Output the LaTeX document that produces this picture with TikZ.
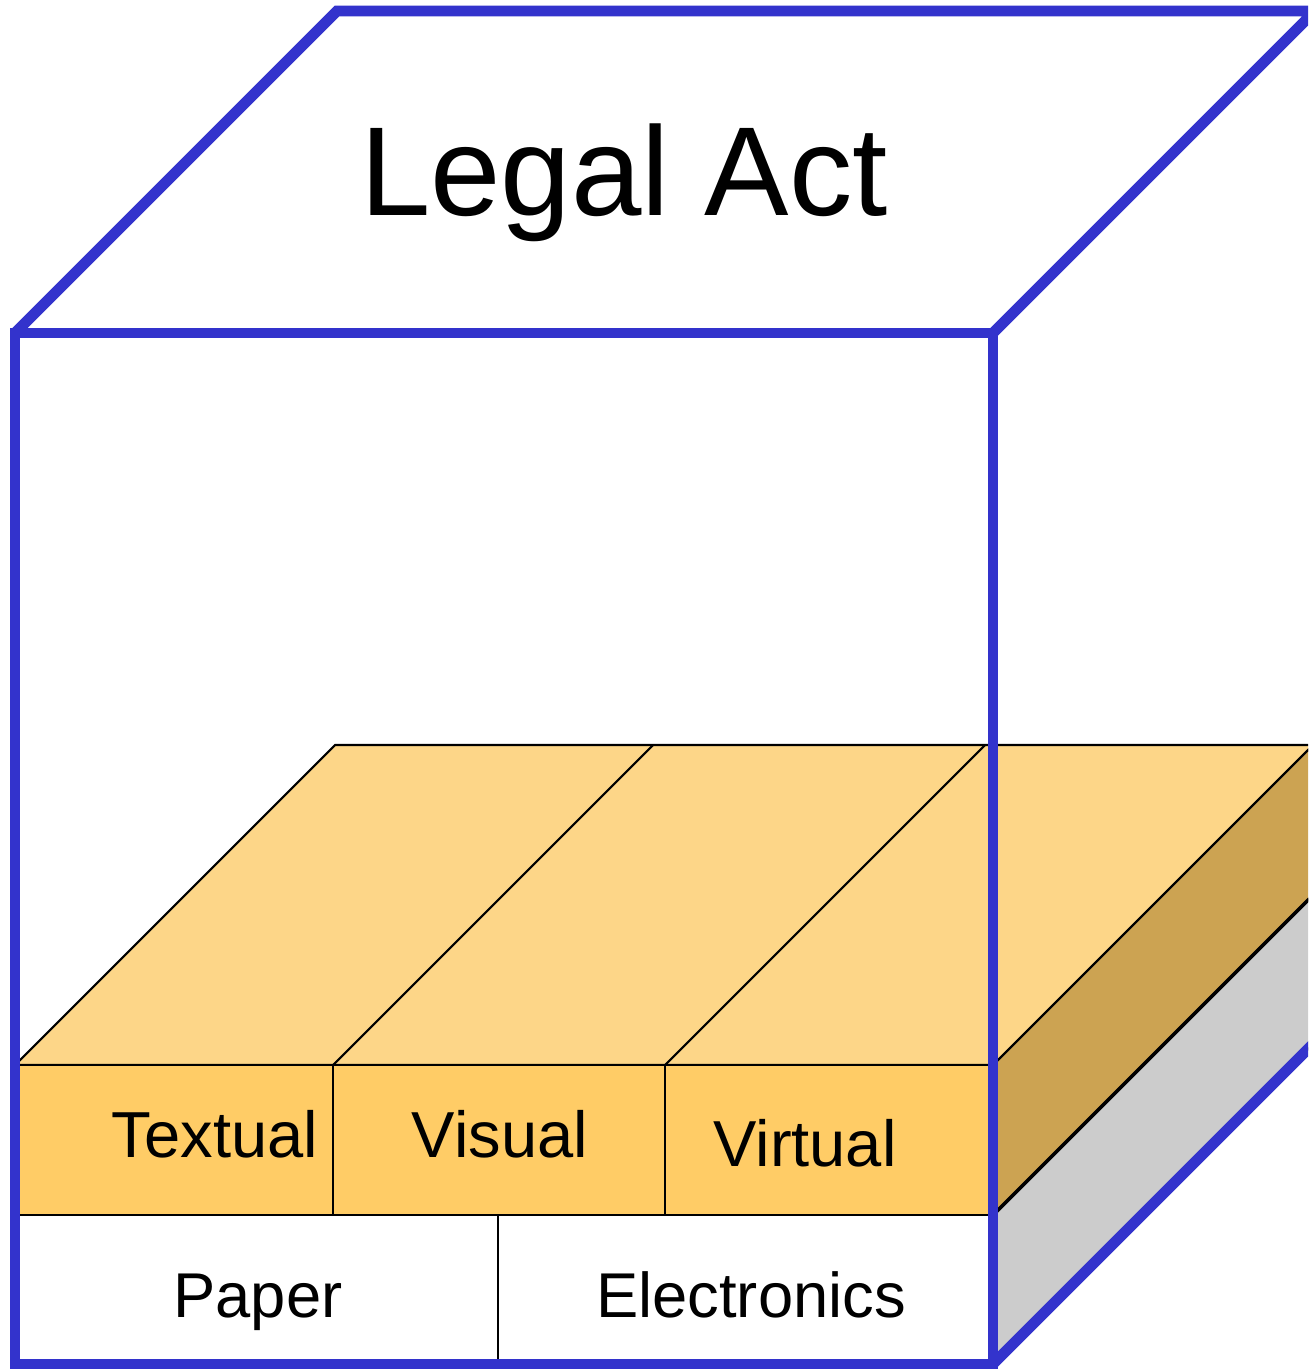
\documentclass[tikz,border=0pt]{standalone}
\usepackage{fontspec}
\setmainfont{Liberation Sans}
\definecolor{azul}{HTML}{3333CC}
\definecolor{naranja}{HTML}{FFCC66}
\definecolor{naranjaclaro}{HTML}{FDD688}
\definecolor{naranjaoscuro}{HTML}{CCA352}
\definecolor{gris}{HTML}{CCCCCC}
\begin{document}
\begin{tikzpicture}[x=0.01cm,y=-0.01cm,
  cara/.style={draw=black,line width=0.6pt},
  cubo/.style={draw=azul,line width=3.1pt,line join=miter},
  rotulo/.style={anchor=base,inner sep=0pt,font=\fontsize{18.5}{20}\selectfont}]
  \useasboundingbox (0,0) rectangle (1308,1369);
  \clip (0,0) rectangle (1308,1369);

  % Capa superior (naranja)
  \draw[cara,fill=naranjaclaro] (15,1065) -- (335,745) -- (1313,745) -- (993,1065) -- cycle;
  \draw[cara] (333,1065) -- (653,745);
  \draw[cara] (665,1065) -- (985,745);
  \draw[cara,fill=naranjaoscuro] (993,1065) -- (1313,745) -- (1313,895) -- (993,1215) -- cycle;
  \draw[cara,fill=naranja] (15,1065) rectangle (333,1215);
  \draw[cara,fill=naranja] (333,1065) rectangle (665,1215);
  \draw[cara,fill=naranja] (665,1065) rectangle (993,1215);

  % Capa inferior (soporte)
  \draw[cara,fill=white] (15,1215) rectangle (498,1364);
  \draw[cara,fill=white] (498,1215) rectangle (993,1364);
  \draw[cara,fill=gris] (993,1215) -- (1313,895) -- (1313,1044) -- (993,1364) -- cycle;
  \draw[line width=1pt] (993,1215) -- (1313,895);

  % Cubo
  \draw[cubo] (15,333) rectangle (993,1364);
  \draw[cubo] (15,333) -- (337,11) -- (1315,11) -- (993,333);
  \draw[cubo] (993,1364) -- (1315,1042);

  % Textos
  \node[anchor=base,inner sep=0pt,font=\fontsize{36}{40}\selectfont] (legal) at (624,215) {Legal Act};
  \node[rotulo] (textual) at (215,1157) {Textual};
  \node[rotulo] (visual) at (500,1157) {Visual};
  \node[rotulo] (virtual) at (805,1166) {Virtual};
  \node[rotulo,font=\fontsize{18}{20}\selectfont] (paper) at (258,1317) {Paper};
  \node[rotulo,font=\fontsize{18}{20}\selectfont] (electronics) at (751,1317) {Electronics};
\end{tikzpicture}
\end{document}
